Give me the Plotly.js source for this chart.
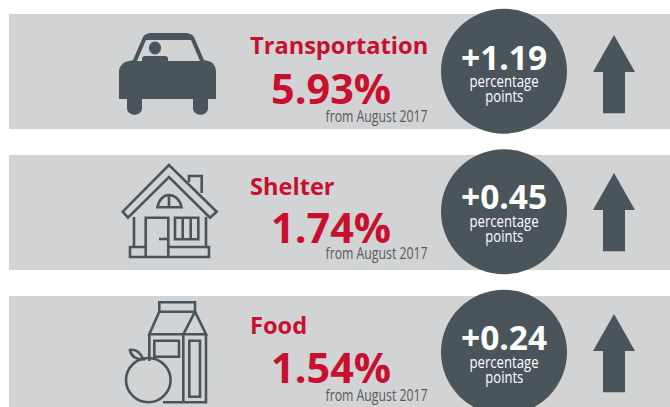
<!DOCTYPE html>
<html><head><meta charset="utf-8">
<script src="https://cdn.plot.ly/plotly-3.0.1.min.js"></script>
<style>html,body{margin:0;padding:0;background:#fff}#c{width:670px;height:407px}</style>
</head><body><div id="c"></div>
<script>
const categories = ["Transportation", "Shelter", "Food"];
const shares = ["5.93%", "1.74%", "1.54%"];
const changes = ["+1.19", "+0.45", "+0.24"];
const unitLines = ["percentage", "points"];
const sinceLabel = "from August 2017";

const DARK = "#4a545b", BAND = "#d1d3d4", RED = "#c8102e", GREY = "#58595b";
const bandTop = [0, 141, 282];
const circleTop = [0, 140.5, 281];
const arrowTop = [0, 138, 279];
const titleTop = [0, 140.7, 280];
const shareTop = [0, 139.6, 279];
const sinceTop = [0, 137.4, 279];
const changeTop = [0, 139, 280];
const unitTop = [0, 139.5, 280.5];
const shapes = [], annotations = [];

function shift(path, dy) {
  return path.replace(/(-?[\d.]+),(-?[\d.]+)/g, (m, x, y) => x + "," + (parseFloat(y) + dy));
}
function solid(path, dy) {
  shapes.push({type:"path", xref:"x", yref:"y", path:shift(path,dy), fillcolor:DARK, line:{width:0}});
}
function outline(path, dy, w) {
  shapes.push({type:"path", xref:"x", yref:"y", path:shift(path,dy), fillcolor:"rgba(0,0,0,0)",
    line:{color:DARK, width:w||2.6}});
}

function car(dy){
  solid("M119,99 L119,72 C119,66 123,62 129,61 L133,60 L143,37 C145,34 148,33 151,33 L186,33 C189,33 192,34 194,37 L204,60 L208,61 C213,62 216,66 216,72 L216,99 Z", dy);
  shapes.push({type:"path", xref:"x", yref:"y", path:shift("M137,61 L146,40 L191,40 L200,61 Z",dy), fillcolor:BAND, line:{width:0}});
  solid("M142,62 L142,59 C142,57 143,56 145,56 L165,56 C167,56 168,57 168,59 L168,62 Z", dy);
  solid("M155,41.5 C158.5,41.5 161,44.5 161,48 C161,51.5 158.5,54.5 155,54.5 C151.5,54.5 149,51.5 149,48 C149,44.5 151.5,41.5 155,41.5 Z", dy);
  solid("M127,98 L142,98 L142,108 C142,117 127,117 127,108 Z", dy);
  solid("M193,98 L208,98 L208,108 C208,117 193,117 193,108 Z", dy);
}
function house(dy){
  const o = dy - 141;
  outline("M169,165 L122.7,211.7 L128,217.7 L169,177 L210,217.7 L216.7,211.7 Z", o);
  outline("M189,182 L189,176 L201.7,176 L201.7,193", o);
  outline("M134,217 L134,247 M206,217 L206,247", o);
  outline("M145.7,247 L130,247 L130,257 L209,257 L209,247 L168.3,247", o);
  outline("M145.7,257 L145.7,217.7 L168.3,217.7 L168.3,257", o);
  outline("M159,239 L168.3,239", o);
  outline("M175,217.7 L198.3,217.7 L198.3,239.3 L175,239.3 Z M182.7,217.7 L182.7,239.3 M190.7,217.7 L190.7,239.3", o);
  outline("M157.5,207.3 C159,199 164,195 169,195 C174,195 180,199 181.5,207.3 Z M169,195 L169,207.3", o);
}
function food(dy){
  const o = dy - 282;
  outline("M159.3,302.3 L195,302.3 L195,311.7 L159.3,311.7 Z", o);
  outline("M159.3,311.7 L149.3,334.3 L206,334.3 L195,311.7 L183.3,334.3", o);
  outline("M149.3,334.3 L149.3,361 M206,334.3 L206,402.3 L163,402.3 M183.3,334.3 L183.3,402.3", o);
  outline("M154.3,340.7 L179,340.7 L179,356.7 L154.3,356.7 Z", o);
  outline("M189.3,340.7 L200,340.7 L200,396.7 L189.3,396.7 Z", o);
  outline("M148.3,358 C160.5,358 170.6,368 170.6,380 C170.6,392 160.5,402.3 148.3,402.3 C136,402.3 126,392 126,380 C126,368 136,358 148.3,358 Z", o);
  outline("M143.3,359.3 C140,352 135,349 130,350 C131,356 136,360 143.3,359.3 Z", o);
}
const icons = [car, house, food];

const SANS = "'Open Sans', sans-serif";
const label = (x, y, text, size, color, anchor) => annotations.push({
  x, y, text, xanchor:anchor||"center", yanchor:"middle", showarrow:false, borderpad:0,
  font:{size, color, family:SANS}});

categories.forEach((name, i) => {
  shapes.push({type:"rect", xref:"x", yref:"y", x0:9, x1:670, y0:14+bandTop[i], y1:129+bandTop[i], fillcolor:BAND, line:{width:0}, layer:"below"});
  icons[i](bandTop[i]);
  shapes.push({type:"circle", xref:"x", yref:"y", x0:441, x1:567, y0:8.7+circleTop[i], y1:133.7+circleTop[i], fillcolor:DARK, line:{width:0}});
  solid("M614,35 L635,72 L625,72 L625,113.3 L603,113.3 L603,72 L593,72 Z", arrowTop[i]);

  label(249, 45+titleTop[i], "<b>"+name+"</b>", 23.6, RED, "left");
  label(331, 87.5+shareTop[i], "<b>"+shares[i]+"</b>", 41.4, RED);
  label(376, 116+sinceTop[i], sinceLabel, 16, GREY);
  label(504, 57+changeTop[i], "<b>"+changes[i]+"</b>", 33.5, "#ffffff");
  label(504, 81+unitTop[i], unitLines[0], 16, "#ffffff");
  label(504, 96+unitTop[i], unitLines[1], 16, "#ffffff");
});

const axis = {visible:false, fixedrange:true, showgrid:false, zeroline:false};
Plotly.newPlot("c", [], {
  width:670, height:407,
  margin:{l:0,r:0,t:0,b:0},
  paper_bgcolor:"#fff", plot_bgcolor:"#fff",
  showlegend:false,
  xaxis:Object.assign({range:[0,670]},axis),
  yaxis:Object.assign({range:[407,0]},axis),
  shapes, annotations
}, {displayModeBar:false, staticPlot:true}).then(() => {
  // the reference sets these labels in a condensed face: narrow the same real text to its width
  const widths = {[sinceLabel]:102, [unitLines[0]]:69, [unitLines[1]]:38};
  document.querySelectorAll("#c .annotation-text").forEach(t => {
    const w = widths[t.textContent];
    if (w) { t.setAttribute("textLength", w); t.setAttribute("lengthAdjust", "spacingAndGlyphs"); }
  });
});
</script></body></html>
